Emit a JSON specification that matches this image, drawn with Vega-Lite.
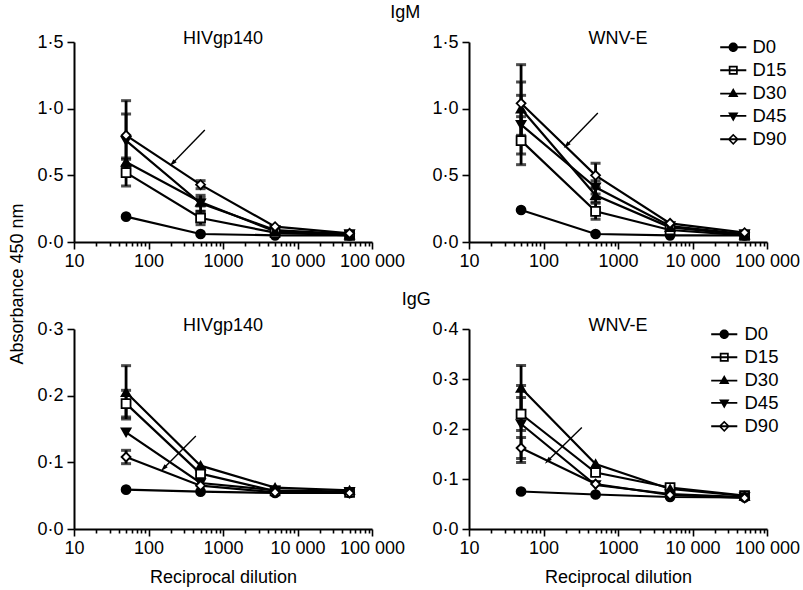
{
  "$schema": "https://vega.github.io/schema/vega-lite/v6.json",
  "padding": {"left": 8, "top": 4, "right": 12, "bottom": 5},
  "background": "white",
  "config": {
    "font": "Liberation Sans",
    "view": {"stroke": null},
    "title": {"font": "Liberation Sans", "fontSize": 18, "fontWeight": "normal", "color": "black"},
    "axis": {"labelFont": "Liberation Sans", "labelFontSize": 18, "labelColor": "black", "titleFont": "Liberation Sans", "titleFontSize": 18, "titleFontWeight": "normal", "titleColor": "black", "domainColor": "black", "domainWidth": 2, "tickColor": "black", "tickWidth": 1.6, "grid": false, "labelPadding": 3},
    "axisY": {"labelPadding": 4},
    "legend": {"labelFont": "Liberation Sans", "labelFontSize": 18.5, "labelColor": "black"}
  },
  "datasets": {
    "pts": [
      {"panel": "M_HIV", "series": "D0", "dil": 50, "v": 0.19, "err": 0},
      {"panel": "M_HIV", "series": "D0", "dil": 500, "v": 0.06, "err": 0},
      {"panel": "M_HIV", "series": "D0", "dil": 5000, "v": 0.05, "err": 0},
      {"panel": "M_HIV", "series": "D0", "dil": 50000, "v": 0.05, "err": 0},
      {"panel": "M_HIV", "series": "D15", "dil": 50, "v": 0.52, "err": 0.10},
      {"panel": "M_HIV", "series": "D15", "dil": 500, "v": 0.18, "err": 0.05},
      {"panel": "M_HIV", "series": "D15", "dil": 5000, "v": 0.07, "err": 0},
      {"panel": "M_HIV", "series": "D15", "dil": 50000, "v": 0.05, "err": 0},
      {"panel": "M_HIV", "series": "D30", "dil": 50, "v": 0.60, "err": 0.03},
      {"panel": "M_HIV", "series": "D30", "dil": 500, "v": 0.30, "err": 0.03},
      {"panel": "M_HIV", "series": "D30", "dil": 5000, "v": 0.08, "err": 0},
      {"panel": "M_HIV", "series": "D30", "dil": 50000, "v": 0.055, "err": 0},
      {"panel": "M_HIV", "series": "D45", "dil": 50, "v": 0.76, "err": 0.20},
      {"panel": "M_HIV", "series": "D45", "dil": 500, "v": 0.29, "err": 0.06},
      {"panel": "M_HIV", "series": "D45", "dil": 5000, "v": 0.09, "err": 0},
      {"panel": "M_HIV", "series": "D45", "dil": 50000, "v": 0.06, "err": 0},
      {"panel": "M_HIV", "series": "D90", "dil": 50, "v": 0.80, "err": 0.26},
      {"panel": "M_HIV", "series": "D90", "dil": 500, "v": 0.43, "err": 0.03},
      {"panel": "M_HIV", "series": "D90", "dil": 5000, "v": 0.115, "err": 0},
      {"panel": "M_HIV", "series": "D90", "dil": 50000, "v": 0.065, "err": 0},

      {"panel": "M_WNV", "series": "D0", "dil": 50, "v": 0.24, "err": 0},
      {"panel": "M_WNV", "series": "D0", "dil": 500, "v": 0.06, "err": 0},
      {"panel": "M_WNV", "series": "D0", "dil": 5000, "v": 0.05, "err": 0},
      {"panel": "M_WNV", "series": "D0", "dil": 50000, "v": 0.05, "err": 0},
      {"panel": "M_WNV", "series": "D15", "dil": 50, "v": 0.76, "err": 0.18},
      {"panel": "M_WNV", "series": "D15", "dil": 500, "v": 0.23, "err": 0.06},
      {"panel": "M_WNV", "series": "D15", "dil": 5000, "v": 0.09, "err": 0},
      {"panel": "M_WNV", "series": "D15", "dil": 50000, "v": 0.05, "err": 0},
      {"panel": "M_WNV", "series": "D30", "dil": 50, "v": 1.00, "err": 0.20},
      {"panel": "M_WNV", "series": "D30", "dil": 500, "v": 0.35, "err": 0.05},
      {"panel": "M_WNV", "series": "D30", "dil": 5000, "v": 0.11, "err": 0},
      {"panel": "M_WNV", "series": "D30", "dil": 50000, "v": 0.055, "err": 0},
      {"panel": "M_WNV", "series": "D45", "dil": 50, "v": 0.88, "err": 0.22},
      {"panel": "M_WNV", "series": "D45", "dil": 500, "v": 0.41, "err": 0.05},
      {"panel": "M_WNV", "series": "D45", "dil": 5000, "v": 0.12, "err": 0},
      {"panel": "M_WNV", "series": "D45", "dil": 50000, "v": 0.06, "err": 0},
      {"panel": "M_WNV", "series": "D90", "dil": 50, "v": 1.04, "err": 0.29},
      {"panel": "M_WNV", "series": "D90", "dil": 500, "v": 0.50, "err": 0.09},
      {"panel": "M_WNV", "series": "D90", "dil": 5000, "v": 0.14, "err": 0},
      {"panel": "M_WNV", "series": "D90", "dil": 50000, "v": 0.07, "err": 0},

      {"panel": "G_HIV", "series": "D0", "dil": 50, "v": 0.059, "err": 0},
      {"panel": "G_HIV", "series": "D0", "dil": 500, "v": 0.056, "err": 0},
      {"panel": "G_HIV", "series": "D0", "dil": 5000, "v": 0.054, "err": 0},
      {"panel": "G_HIV", "series": "D0", "dil": 50000, "v": 0.054, "err": 0},
      {"panel": "G_HIV", "series": "D15", "dil": 50, "v": 0.188, "err": 0.02},
      {"panel": "G_HIV", "series": "D15", "dil": 500, "v": 0.083, "err": 0.003},
      {"panel": "G_HIV", "series": "D15", "dil": 5000, "v": 0.057, "err": 0},
      {"panel": "G_HIV", "series": "D15", "dil": 50000, "v": 0.055, "err": 0},
      {"panel": "G_HIV", "series": "D30", "dil": 50, "v": 0.205, "err": 0.04},
      {"panel": "G_HIV", "series": "D30", "dil": 500, "v": 0.095, "err": 0},
      {"panel": "G_HIV", "series": "D30", "dil": 5000, "v": 0.062, "err": 0},
      {"panel": "G_HIV", "series": "D30", "dil": 50000, "v": 0.058, "err": 0},
      {"panel": "G_HIV", "series": "D45", "dil": 50, "v": 0.145, "err": 0},
      {"panel": "G_HIV", "series": "D45", "dil": 500, "v": 0.069, "err": 0},
      {"panel": "G_HIV", "series": "D45", "dil": 5000, "v": 0.058, "err": 0},
      {"panel": "G_HIV", "series": "D45", "dil": 50000, "v": 0.056, "err": 0},
      {"panel": "G_HIV", "series": "D90", "dil": 50, "v": 0.108, "err": 0.01},
      {"panel": "G_HIV", "series": "D90", "dil": 500, "v": 0.065, "err": 0},
      {"panel": "G_HIV", "series": "D90", "dil": 5000, "v": 0.055, "err": 0},
      {"panel": "G_HIV", "series": "D90", "dil": 50000, "v": 0.054, "err": 0},

      {"panel": "G_WNV", "series": "D0", "dil": 50, "v": 0.075, "err": 0},
      {"panel": "G_WNV", "series": "D0", "dil": 500, "v": 0.069, "err": 0},
      {"panel": "G_WNV", "series": "D0", "dil": 5000, "v": 0.064, "err": 0},
      {"panel": "G_WNV", "series": "D0", "dil": 50000, "v": 0.063, "err": 0},
      {"panel": "G_WNV", "series": "D15", "dil": 50, "v": 0.23, "err": 0.033},
      {"panel": "G_WNV", "series": "D15", "dil": 500, "v": 0.113, "err": 0.005},
      {"panel": "G_WNV", "series": "D15", "dil": 5000, "v": 0.083, "err": 0},
      {"panel": "G_WNV", "series": "D15", "dil": 50000, "v": 0.067, "err": 0},
      {"panel": "G_WNV", "series": "D30", "dil": 50, "v": 0.282, "err": 0.045},
      {"panel": "G_WNV", "series": "D30", "dil": 500, "v": 0.13, "err": 0},
      {"panel": "G_WNV", "series": "D30", "dil": 5000, "v": 0.08, "err": 0},
      {"panel": "G_WNV", "series": "D30", "dil": 50000, "v": 0.066, "err": 0},
      {"panel": "G_WNV", "series": "D45", "dil": 50, "v": 0.21, "err": 0.077},
      {"panel": "G_WNV", "series": "D45", "dil": 500, "v": 0.088, "err": 0},
      {"panel": "G_WNV", "series": "D45", "dil": 5000, "v": 0.07, "err": 0},
      {"panel": "G_WNV", "series": "D45", "dil": 50000, "v": 0.064, "err": 0},
      {"panel": "G_WNV", "series": "D90", "dil": 50, "v": 0.162, "err": 0.021},
      {"panel": "G_WNV", "series": "D90", "dil": 500, "v": 0.09, "err": 0},
      {"panel": "G_WNV", "series": "D90", "dil": 5000, "v": 0.068, "err": 0},
      {"panel": "G_WNV", "series": "D90", "dil": 50000, "v": 0.062, "err": 0}
    ],
    "arrows": [
      {"panel": "M_HIV", "dil": 212, "v": 0.593, "dil2": 570, "v2": 0.84},
      {"panel": "M_WNV", "dil": 206, "v": 0.728, "dil2": 536, "v2": 0.968},
      {"panel": "G_HIV", "dil": 161, "v": 0.0915, "dil2": 432, "v2": 0.1395},
      {"panel": "G_WNV", "dil": 115, "v": 0.137, "dil2": 327, "v2": 0.203}
    ]
  },
  "title": {"text": "Absorbance 450 nm", "orient": "left", "anchor": "middle", "offset": 10, "dx": 11},
  "spacing": 21,
  "resolve": {"scale": {"shape": "independent", "fill": "independent"}, "legend": {"shape": "independent"}},
  "vconcat": [
    {
      "title": {"text": "IgM", "anchor": "middle", "offset": 8, "dx": -13},
      "spacing": 26,
      "resolve": {"scale": {"shape": "independent", "fill": "independent"}, "legend": {"shape": "independent"}},
      "hconcat": [
        {
          "width": 298, "height": 200,
          "title": {"text": "HIVgp140", "offset": -15},
          "encoding": {
            "x": {"field": "dil", "type": "quantitative", "scale": {"type": "log", "domain": [10, 100000], "nice": false}, "title": null,
              "axis": {"values": [10,20,30,40,50,60,70,80,90,100,200,300,400,500,600,700,800,900,1000,2000,3000,4000,5000,6000,7000,8000,9000,10000,20000,30000,40000,50000,60000,70000,80000,90000,100000],
                "labelExpr": "datum.value == 10 ? '10' : datum.value == 100 ? '100' : datum.value == 1000 ? '1000' : datum.value == 10000 ? '10 000' : datum.value == 100000 ? '100 000' : ''",
                "tickSize": {"condition": {"test": "indexof([10,100,1000,10000,100000], datum.value) >= 0", "value": 7}, "value": 4},
                "labelOverlap": false, "labelFlush": false, "labelBound": false}},
            "y": {"field": "v", "type": "quantitative", "scale": {"domain": [0, 1.5], "nice": false}, "title": null,
              "axis": {"values": [0, 0.5, 1, 1.5], "labelExpr": "replace(format(datum.value, '.1f'), '.', '·')", "tickSize": 7}}
          },
          "layer": [
            {"data": {"name": "pts"}, "transform": [{"filter": "datum.panel == 'M_HIV'"}],
             "mark": {"type": "line", "color": "black", "strokeWidth": 2.2},
             "encoding": {"detail": {"field": "series"}}},
            {"data": {"name": "pts"}, "transform": [{"filter": "datum.panel == 'M_HIV' && datum.err > 0"}],
             "mark": {"type": "errorbar", "color": "black", "thickness": 2.8, "ticks": {"size": 10, "thickness": 3, "color": "black"}},
             "encoding": {"yError": {"field": "err"}}},
            {"data": {"name": "pts"}, "transform": [{"filter": "datum.panel == 'M_HIV'"}],
             "mark": {"type": "point", "filled": true, "stroke": "black", "strokeWidth": 1.8, "size": 80, "opacity": 1},
             "encoding": {
               "shape": {"field": "series", "type": "nominal", "scale": {"domain": ["D0","D15","D30","D45","D90"], "range": ["circle","square","triangle-up","triangle-down","diamond"]}, "legend": null},
               "fill": {"field": "series", "type": "nominal", "scale": {"domain": ["D0","D15","D30","D45","D90"], "range": ["black","white","black","black","white"]}, "legend": null}}},
            {"data": {"name": "arrows"}, "transform": [{"filter": "datum.panel == 'M_HIV'"}],
             "mark": {"type": "rule", "color": "black", "strokeWidth": 1.4},
             "encoding": {"x2": {"field": "dil2"}, "y2": {"field": "v2"}}},
            {"data": {"name": "arrows"}, "transform": [{"filter": "datum.panel == 'M_HIV'"}],
             "mark": {"type": "point", "shape": "M0,-1.4L0.7,1L-0.7,1Z", "angle": 225, "filled": true, "color": "black", "size": 40, "opacity": 1}}
          ]
        },
        {
          "width": 298, "height": 200,
          "title": {"text": "WNV-E", "offset": -15},
          "resolve": {"scale": {"shape": "independent"}},
          "encoding": {
            "x": {"field": "dil", "type": "quantitative", "scale": {"type": "log", "domain": [10, 100000], "nice": false}, "title": null,
              "axis": {"values": [10,20,30,40,50,60,70,80,90,100,200,300,400,500,600,700,800,900,1000,2000,3000,4000,5000,6000,7000,8000,9000,10000,20000,30000,40000,50000,60000,70000,80000,90000,100000],
                "labelExpr": "datum.value == 10 ? '10' : datum.value == 100 ? '100' : datum.value == 1000 ? '1000' : datum.value == 10000 ? '10 000' : datum.value == 100000 ? '100 000' : ''",
                "tickSize": {"condition": {"test": "indexof([10,100,1000,10000,100000], datum.value) >= 0", "value": 7}, "value": 4},
                "labelOverlap": false, "labelFlush": false, "labelBound": false}},
            "y": {"field": "v", "type": "quantitative", "scale": {"domain": [0, 1.5], "nice": false}, "title": null,
              "axis": {"values": [0, 0.5, 1, 1.5], "labelExpr": "replace(format(datum.value, '.1f'), '.', '·')", "tickSize": 7}}
          },
          "layer": [
            {"data": {"name": "pts"}, "transform": [{"filter": "datum.panel == 'M_WNV'"}],
             "mark": {"type": "line", "color": "black", "strokeWidth": 2.2},
             "encoding": {"detail": {"field": "series"}}},
            {"data": {"name": "pts"}, "transform": [{"filter": "datum.panel == 'M_WNV' && datum.err > 0"}],
             "mark": {"type": "errorbar", "color": "black", "thickness": 2.8, "ticks": {"size": 10, "thickness": 3, "color": "black"}},
             "encoding": {"yError": {"field": "err"}}},
            {"data": {"name": "pts"}, "transform": [{"filter": "datum.panel == 'M_WNV'"}],
             "mark": {"type": "point", "filled": true, "stroke": "black", "strokeWidth": 1.8, "size": 80, "opacity": 1},
             "encoding": {
               "shape": {"field": "series", "type": "nominal", "scale": {"domain": ["D0","D15","D30","D45","D90"], "range": ["circle","square","triangle-up","triangle-down","diamond"]}, "legend": null},
               "fill": {"field": "series", "type": "nominal", "scale": {"domain": ["D0","D15","D30","D45","D90"], "range": ["black","white","black","black","white"]}, "legend": null}}},
            {"data": {"name": "pts"}, "transform": [{"filter": "false"}],
             "mark": {"type": "point", "filled": true, "color": "black", "opacity": 1},
             "encoding": {
               "shape": {"field": "series", "type": "nominal", "scale": {"domain": ["D0","D15","D30","D45","D90"], "range": [
                   "M-1.05,0A1.05,1.05,0,1,1,1.05,0A1.05,1.05,0,1,1,-1.05,0Z M-2.9,-0.2L2.9,-0.2L2.9,0.2L-2.9,0.2Z",
                   "M-1,-1L1,-1L1,1L-1,1Z M-0.62,-0.62L-0.62,0.62L0.62,0.62L0.62,-0.62Z M-2.9,-0.2L2.9,-0.2L2.9,0.2L-2.9,0.2Z",
                   "M0,-1.15L1.15,0.85L-1.15,0.85Z M-2.9,-0.1L2.9,-0.1L2.9,0.3L-2.9,0.3Z",
                   "M0,1.15L-1.15,-0.85L1.15,-0.85Z M-2.9,-0.3L2.9,-0.3L2.9,0.1L-2.9,0.1Z",
                   "M0,-1.25L1.25,0L0,1.25L-1.25,0Z M0,-0.75L-0.75,0L0,0.75L0.75,0Z M-2.9,-0.2L2.9,-0.2L2.9,0.2L-2.9,0.2Z"]},
                 "legend": {"title": null, "orient": "none", "legendX": 255, "legendY": -4, "symbolSize": 81, "labelOffset": 10, "rowPadding": 4, "labelFontSize": 18.5, "symbolFillColor": "black", "symbolStrokeWidth": 0}}}},
            {"data": {"name": "arrows"}, "transform": [{"filter": "datum.panel == 'M_WNV'"}],
             "mark": {"type": "rule", "color": "black", "strokeWidth": 1.4},
             "encoding": {"x2": {"field": "dil2"}, "y2": {"field": "v2"}}},
            {"data": {"name": "arrows"}, "transform": [{"filter": "datum.panel == 'M_WNV'"}],
             "mark": {"type": "point", "shape": "M0,-1.4L0.7,1L-0.7,1Z", "angle": 225, "filled": true, "color": "black", "size": 40, "opacity": 1}}
          ]
        }
      ]
    },
    {
      "title": {"text": "IgG", "anchor": "middle", "offset": 8, "dx": -2},
      "spacing": 26,
      "resolve": {"scale": {"shape": "independent", "fill": "independent"}, "legend": {"shape": "independent"}},
      "hconcat": [
        {
          "width": 298, "height": 200,
          "title": {"text": "HIVgp140", "offset": -15},
          "encoding": {
            "x": {"field": "dil", "type": "quantitative", "scale": {"type": "log", "domain": [10, 100000], "nice": false}, "title": "Reciprocal dilution",
              "axis": {"values": [10,20,30,40,50,60,70,80,90,100,200,300,400,500,600,700,800,900,1000,2000,3000,4000,5000,6000,7000,8000,9000,10000,20000,30000,40000,50000,60000,70000,80000,90000,100000],
                "labelExpr": "datum.value == 10 ? '10' : datum.value == 100 ? '100' : datum.value == 1000 ? '1000' : datum.value == 10000 ? '10 000' : datum.value == 100000 ? '100 000' : ''",
                "tickSize": {"condition": {"test": "indexof([10,100,1000,10000,100000], datum.value) >= 0", "value": 7}, "value": 4},
                "labelOverlap": false, "labelFlush": false, "labelBound": false, "titlePadding": 11}},
            "y": {"field": "v", "type": "quantitative", "scale": {"domain": [0, 0.3], "nice": false}, "title": null,
              "axis": {"values": [0, 0.1, 0.2, 0.3], "labelExpr": "replace(format(datum.value, '.1f'), '.', '·')", "tickSize": 7}}
          },
          "layer": [
            {"data": {"name": "pts"}, "transform": [{"filter": "datum.panel == 'G_HIV'"}],
             "mark": {"type": "line", "color": "black", "strokeWidth": 2.2},
             "encoding": {"detail": {"field": "series"}}},
            {"data": {"name": "pts"}, "transform": [{"filter": "datum.panel == 'G_HIV' && datum.err > 0"}],
             "mark": {"type": "errorbar", "color": "black", "thickness": 2.8, "ticks": {"size": 10, "thickness": 3, "color": "black"}},
             "encoding": {"yError": {"field": "err"}}},
            {"data": {"name": "pts"}, "transform": [{"filter": "datum.panel == 'G_HIV'"}],
             "mark": {"type": "point", "filled": true, "stroke": "black", "strokeWidth": 1.8, "size": 80, "opacity": 1},
             "encoding": {
               "shape": {"field": "series", "type": "nominal", "scale": {"domain": ["D0","D15","D30","D45","D90"], "range": ["circle","square","triangle-up","triangle-down","diamond"]}, "legend": null},
               "fill": {"field": "series", "type": "nominal", "scale": {"domain": ["D0","D15","D30","D45","D90"], "range": ["black","white","black","black","white"]}, "legend": null}}},
            {"data": {"name": "arrows"}, "transform": [{"filter": "datum.panel == 'G_HIV'"}],
             "mark": {"type": "rule", "color": "black", "strokeWidth": 1.4},
             "encoding": {"x2": {"field": "dil2"}, "y2": {"field": "v2"}}},
            {"data": {"name": "arrows"}, "transform": [{"filter": "datum.panel == 'G_HIV'"}],
             "mark": {"type": "point", "shape": "M0,-1.4L0.7,1L-0.7,1Z", "angle": 225, "filled": true, "color": "black", "size": 40, "opacity": 1}}
          ]
        },
        {
          "width": 298, "height": 200,
          "title": {"text": "WNV-E", "offset": -15},
          "resolve": {"scale": {"shape": "independent"}},
          "encoding": {
            "x": {"field": "dil", "type": "quantitative", "scale": {"type": "log", "domain": [10, 100000], "nice": false}, "title": "Reciprocal dilution",
              "axis": {"values": [10,20,30,40,50,60,70,80,90,100,200,300,400,500,600,700,800,900,1000,2000,3000,4000,5000,6000,7000,8000,9000,10000,20000,30000,40000,50000,60000,70000,80000,90000,100000],
                "labelExpr": "datum.value == 10 ? '10' : datum.value == 100 ? '100' : datum.value == 1000 ? '1000' : datum.value == 10000 ? '10 000' : datum.value == 100000 ? '100 000' : ''",
                "tickSize": {"condition": {"test": "indexof([10,100,1000,10000,100000], datum.value) >= 0", "value": 7}, "value": 4},
                "labelOverlap": false, "labelFlush": false, "labelBound": false, "titlePadding": 11}},
            "y": {"field": "v", "type": "quantitative", "scale": {"domain": [0, 0.4], "nice": false}, "title": null,
              "axis": {"values": [0, 0.1, 0.2, 0.3, 0.4], "labelExpr": "replace(format(datum.value, '.1f'), '.', '·')", "tickSize": 7}}
          },
          "layer": [
            {"data": {"name": "pts"}, "transform": [{"filter": "datum.panel == 'G_WNV'"}],
             "mark": {"type": "line", "color": "black", "strokeWidth": 2.2},
             "encoding": {"detail": {"field": "series"}}},
            {"data": {"name": "pts"}, "transform": [{"filter": "datum.panel == 'G_WNV' && datum.err > 0"}],
             "mark": {"type": "errorbar", "color": "black", "thickness": 2.8, "ticks": {"size": 10, "thickness": 3, "color": "black"}},
             "encoding": {"yError": {"field": "err"}}},
            {"data": {"name": "pts"}, "transform": [{"filter": "datum.panel == 'G_WNV'"}],
             "mark": {"type": "point", "filled": true, "stroke": "black", "strokeWidth": 1.8, "size": 80, "opacity": 1},
             "encoding": {
               "shape": {"field": "series", "type": "nominal", "scale": {"domain": ["D0","D15","D30","D45","D90"], "range": ["circle","square","triangle-up","triangle-down","diamond"]}, "legend": null},
               "fill": {"field": "series", "type": "nominal", "scale": {"domain": ["D0","D15","D30","D45","D90"], "range": ["black","white","black","black","white"]}, "legend": null}}},
            {"data": {"name": "pts"}, "transform": [{"filter": "false"}],
             "mark": {"type": "point", "filled": true, "color": "black", "opacity": 1},
             "encoding": {
               "shape": {"field": "series", "type": "nominal", "scale": {"domain": ["D0","D15","D30","D45","D90"], "range": [
                   "M-1.05,0A1.05,1.05,0,1,1,1.05,0A1.05,1.05,0,1,1,-1.05,0Z M-2.9,-0.2L2.9,-0.2L2.9,0.2L-2.9,0.2Z",
                   "M-1,-1L1,-1L1,1L-1,1Z M-0.62,-0.62L-0.62,0.62L0.62,0.62L0.62,-0.62Z M-2.9,-0.2L2.9,-0.2L2.9,0.2L-2.9,0.2Z",
                   "M0,-1.15L1.15,0.85L-1.15,0.85Z M-2.9,-0.1L2.9,-0.1L2.9,0.3L-2.9,0.3Z",
                   "M0,1.15L-1.15,-0.85L1.15,-0.85Z M-2.9,-0.3L2.9,-0.3L2.9,0.1L-2.9,0.1Z",
                   "M0,-1.25L1.25,0L0,1.25L-1.25,0Z M0,-0.75L-0.75,0L0,0.75L0.75,0Z M-2.9,-0.2L2.9,-0.2L2.9,0.2L-2.9,0.2Z"]},
                 "legend": {"title": null, "orient": "none", "legendX": 246, "legendY": -4, "symbolSize": 81, "labelOffset": 11, "rowPadding": 4, "labelFontSize": 18.5, "symbolFillColor": "black", "symbolStrokeWidth": 0}}}},
            {"data": {"name": "arrows"}, "transform": [{"filter": "datum.panel == 'G_WNV'"}],
             "mark": {"type": "rule", "color": "black", "strokeWidth": 1.4},
             "encoding": {"x2": {"field": "dil2"}, "y2": {"field": "v2"}}},
            {"data": {"name": "arrows"}, "transform": [{"filter": "datum.panel == 'G_WNV'"}],
             "mark": {"type": "point", "shape": "M0,-1.4L0.7,1L-0.7,1Z", "angle": 225, "filled": true, "color": "black", "size": 40, "opacity": 1}}
          ]
        }
      ]
    }
  ]
}
